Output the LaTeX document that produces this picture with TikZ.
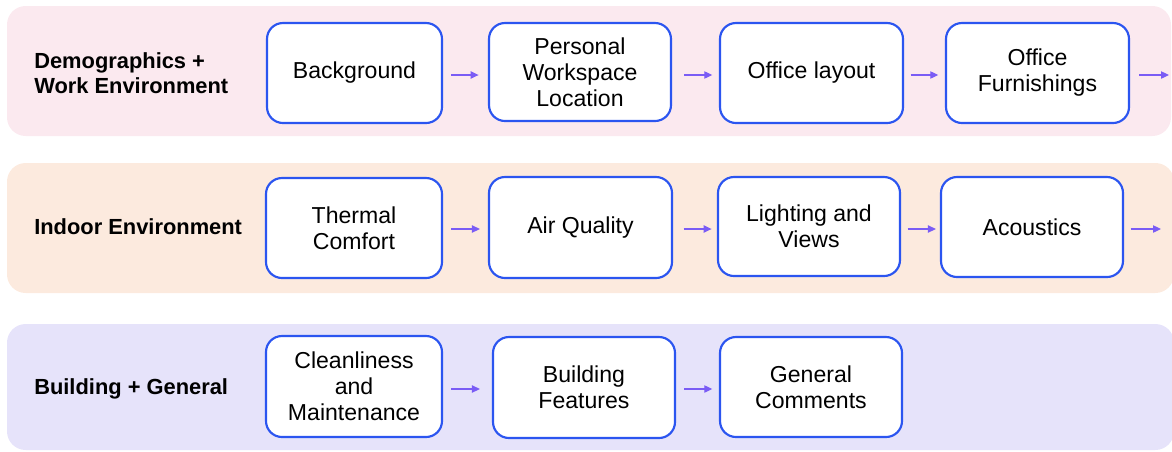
\documentclass[tikz,border=0pt]{standalone}
\usepackage{fontspec}
\setmainfont{Liberation Sans}
\usetikzlibrary{arrows.meta}
\definecolor{bandA}{HTML}{FBE9EF}
\definecolor{bandB}{HTML}{FCEADE}
\definecolor{bandC}{HTML}{E6E3FA}
\definecolor{boxline}{HTML}{2B55F0}
\definecolor{arrowc}{HTML}{7A5CF5}
\tikzset{
  band/.style={rounded corners=14pt},
  stepbox/.style={draw=boxline, line width=1.6pt, fill=white, rounded corners=12pt,
    align=center, inner sep=0pt, font=\fontsize{17.3}{19.5}\selectfont},
  rowlabel/.style={anchor=west, align=left, inner sep=0pt, font=\bfseries\fontsize{16.4}{19}\selectfont},
  flow/.style={draw=arrowc, line width=0.9pt, -{Triangle[length=6pt,width=5.5pt]}}
}
\begin{document}
\begin{tikzpicture}[x=0.75pt,y=-0.75pt]
\useasboundingbox (0,0) rectangle (1172,451);
% bands
\fill[bandA, band] (7,6) rectangle (1171,136);
\fill[bandB, band] (7,163) rectangle (1174,293);
\fill[bandC, band] (7,324) rectangle (1174,450);
% labels
\node[rowlabel] (l1) at (34,73) {Demographics +\\Work Environment};
\node[rowlabel] (l2) at (34,227) {Indoor Environment};
\node[rowlabel] (l3) at (34,389) {Building + General};
% row 1
\node[stepbox, minimum width=175*0.75pt, minimum height=100*0.75pt] (b11) at (354.5,73) {Background};
\node[stepbox, minimum width=182*0.75pt, minimum height=98*0.75pt] (b12) at (580,72) {Personal\\Workspace\\Location};
\node[stepbox, minimum width=183*0.75pt, minimum height=100*0.75pt] (b13) at (811.5,73) {Office layout};
\node[stepbox, minimum width=183*0.75pt, minimum height=100*0.75pt] (b14) at (1037.5,73) {Office\\Furnishings};
\coordinate (e1) at (1169,75);
% row 2
\node[stepbox, minimum width=176*0.75pt, minimum height=100*0.75pt] (b21) at (354,228) {Thermal\\Comfort};
\node[stepbox, minimum width=183*0.75pt, minimum height=101*0.75pt] (b22) at (580.5,227.5) {Air Quality};
\node[stepbox, minimum width=182*0.75pt, minimum height=99*0.75pt] (b23) at (809,226.5) {Lighting and\\Views};
\node[stepbox, minimum width=182*0.75pt, minimum height=100*0.75pt] (b24) at (1032,227) {Acoustics};
\coordinate (e2) at (1161,229);
% row 3
\node[stepbox, minimum width=176*0.75pt, minimum height=101*0.75pt] (b31) at (354,386.5) {Cleanliness\\and\\Maintenance};
\node[stepbox, minimum width=182*0.75pt, minimum height=101*0.75pt] (b32) at (584,387.5) {Building\\Features};
\node[stepbox, minimum width=182*0.75pt, minimum height=100*0.75pt] (b33) at (811,387) {General\\Comments};
% arrows
\draw[flow] ([xshift=6pt]b11.east |- 0,75) -- ([xshift=-7pt]b12.west |- 0,75);
\draw[flow] ([xshift=9pt]b12.east |- 0,75) -- ([xshift=-5pt]b13.west |- 0,75);
\draw[flow] ([xshift=5pt]b13.east |- 0,75) -- ([xshift=-5pt]b14.west |- 0,75);
\draw[flow] ([xshift=7pt]b14.east |- 0,75) -- (e1);
\draw[flow] ([xshift=6pt]b21.east |- 0,229) -- ([xshift=-6pt]b22.west |- 0,229);
\draw[flow] ([xshift=8pt]b22.east |- 0,229) -- ([xshift=-4pt]b23.west |- 0,229);
\draw[flow] ([xshift=5pt]b23.east |- 0,229) -- ([xshift=-3pt]b24.west |- 0,229);
\draw[flow] ([xshift=5pt]b24.east |- 0,229) -- (e2);
\draw[flow] ([xshift=6pt]b31.east |- 0,389) -- ([xshift=-9pt]b32.west |- 0,389);
\draw[flow] ([xshift=6pt]b32.east |- 0,389) -- ([xshift=-5pt]b33.west |- 0,389);
\end{tikzpicture}
\end{document}
